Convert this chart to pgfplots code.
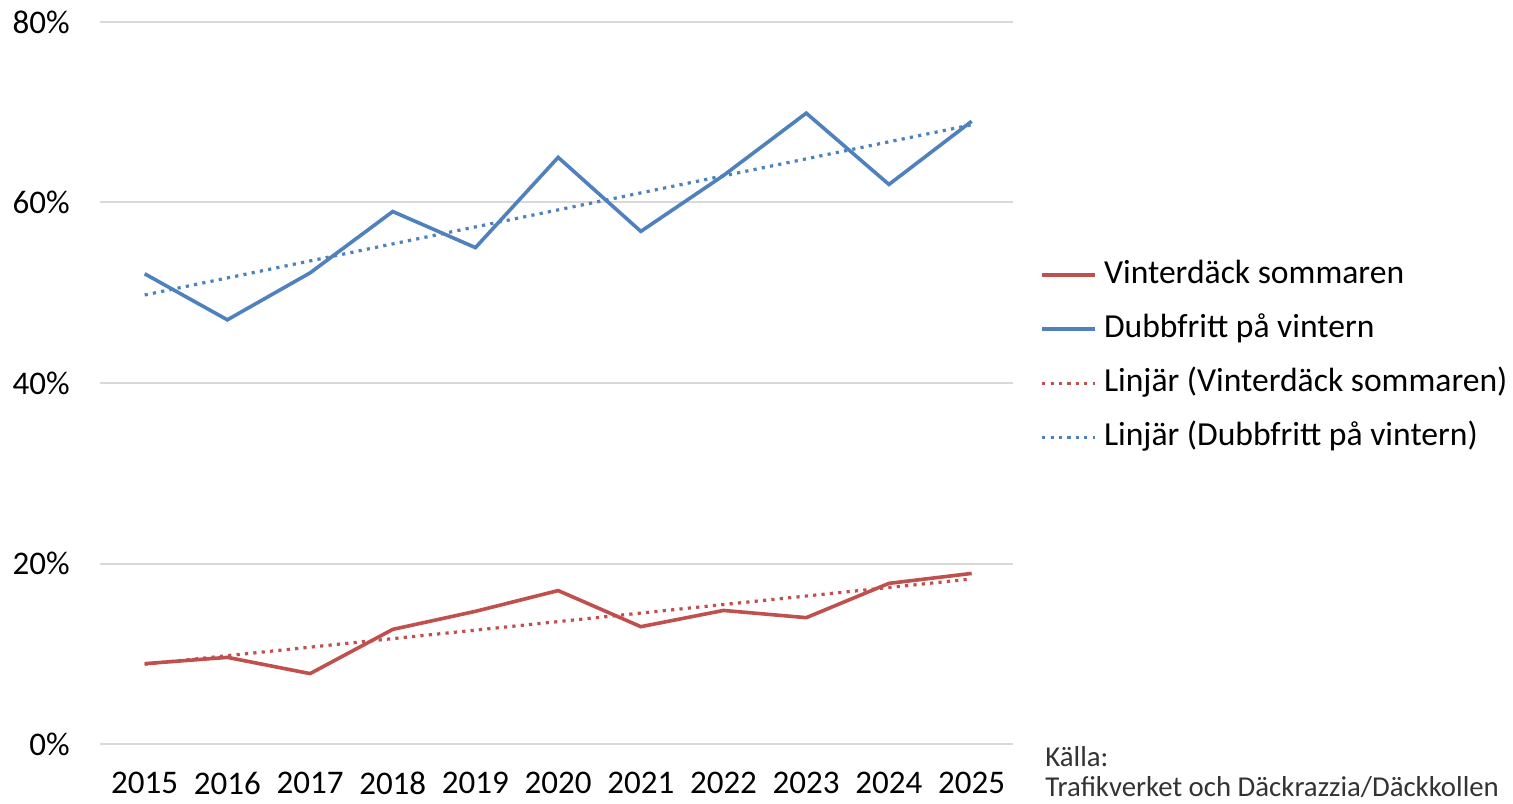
\documentclass[border=0pt]{standalone}
\usepackage{pgfplots}
\usepackage{pgfplotstable}
\pgfplotsset{compat=1.18}
\usepackage{fontspec}
\setmainfont{Carlito}
\definecolor{xred}{RGB}{192,80,77}
\definecolor{xblue}{RGB}{79,129,189}
\definecolor{xgrid}{RGB}{217,217,217}
\pgfplotstableread{
i year red blue
0 2015 8.9 52.1
1 2016 9.6 47.0
2 2017 7.8 52.2
3 2018 12.7 59.0
4 2019 14.7 55.0
5 2020 17.0 65.0
6 2021 13.0 56.8
7 2022 14.8 63.0
8 2023 14.0 69.9
9 2024 17.8 62.0
10 2025 18.9 69.0
}\data
\begin{document}
\begin{tikzpicture}
\begin{axis}[
  at={(50pt,29.5pt)}, anchor=south west,
  scale only axis, width=456.5pt, height=361pt,
  xmin=2014.46, xmax=2025.5, ymin=0, ymax=80,
  clip=false,
  axis line style={draw=none},
  major tick length=0pt,
  xtick={2015,...,2025}, ytick={0,20,40,60,80},
  ymajorgrids, grid style={xgrid, line width=1pt},
  /pgf/number format/assume math mode=true,
  /pgf/number format/set thousands separator={},
  font=\fontsize{16.5}{19}\selectfont,
  yticklabel={\pgfmathprintnumber{\tick}\%},
  yticklabel style={anchor=east, inner sep=0pt, xshift=-15pt},
  xticklabel style={anchor=north, inner sep=0pt, text depth=0pt, yshift=-14pt},
  legend style={at={(1.0296,0.672)}, anchor=north west, draw=none, fill=none,
    inner sep=0pt, row sep=11pt, column sep=3.5pt,
    nodes={inner sep=0pt, text height=12pt, text depth=4pt},
    font=\fontsize{16.8}{19}\selectfont},
  legend cell align=left,
  legend image code/.code={\draw[#1] (0pt,0pt) -- (26.5pt,0pt);},
]
\addplot[xred, line width=1.8pt] table[x=year, y=red] {\data};
\addlegendentry{Vinterdäck sommaren}
\addplot[xblue, line width=1.8pt] table[x=year, y=blue] {\data};
\addlegendentry{Dubbfritt på vintern}
\addplot[xred, line width=1.6pt, dash pattern=on 1.6pt off 2.6pt] table[x=year, y={create col/linear regression={x=i, y=red}}] {\data};
\addlegendentry{Linjär (Vinterdäck sommaren)}
\addplot[xblue, line width=1.6pt, dash pattern=on 1.6pt off 2.6pt] table[x=year, y={create col/linear regression={x=i, y=blue}}] {\data};
\addlegendentry{Linjär (Dubbfritt på vintern)}
\end{axis}
\node[anchor=base west, inner sep=0pt, font=\fontsize{14.4}{17}\selectfont, text=black!80] at (522.5pt,18.5pt) {Källa:};
\node[anchor=base west, inner sep=0pt, font=\fontsize{14.4}{17}\selectfont, text=black!80] at (522.5pt,3.5pt) {Trafikverket och Däckrazzia/Däckkollen};
\pgfresetboundingbox
\useasboundingbox (0,0) rectangle (756.5pt,401.5pt);
\end{tikzpicture}
\end{document}
